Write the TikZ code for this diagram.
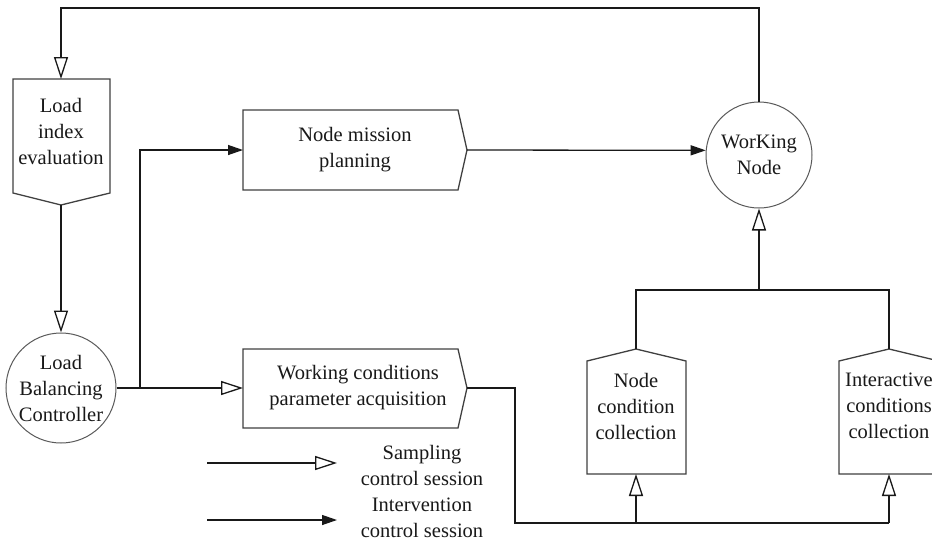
\documentclass[tikz,border=0pt]{standalone}
\usepackage{fontspec}
\setmainfont{Liberation Serif}
\usetikzlibrary{arrows.meta}
\tikzset{
  shapeline/.style={draw=black!75, line width=1.3pt, fill=white},
  lbl/.style={align=center, font=\fontsize{20.5}{26}\selectfont, text=black!90, inner sep=0pt},
  conn/.style={draw=black!90, line width=1.3pt},
  sampl/.style={conn, -{Triangle[open, length=22pt, width=14pt, line width=1.3pt]}},
  interv/.style={conn, -{Triangle[length=15pt, width=10pt]}},
  roundnode/.style={circle, draw=black!65, line width=1pt, minimum size=#1, inner sep=0pt, align=center, font=\fontsize{20.5}{26}\selectfont, text=black!90},
}
\begin{document}
\begin{tikzpicture}[x=1pt,y=-1pt]
\useasboundingbox (0,0) rectangle (932,542);
\clip (0,0) rectangle (932,542);
% coordinates of shapes
\coordinate (lieT) at (61,79);
\coordinate (lieB) at (61,205);
\coordinate (nmpL) at (243,150);
\coordinate (nmpR) at (467,150);
\coordinate (wcpL) at (243,388);
\coordinate (wcpR) at (467,388);
\coordinate (ncT) at (636,349);
\coordinate (ncB) at (636,474);
\coordinate (icT) at (889,349);
\coordinate (icB) at (889,474);
% shapes
\path[shapeline] (13,79) -- (110,79) -- (110,193) -- (lieB) -- (13,193) -- cycle;
\node[lbl] (lie) at (61,131) {Load\\index\\evaluation};
\path[shapeline] (243,110) -- (458,110) -- (nmpR) -- (458,190) -- (243,190) -- cycle;
\node[lbl] (nmp) at (355,150) {Node mission\\planning};
\path[shapeline] (243,349) -- (458,349) -- (wcpR) -- (458,428) -- (243,428) -- cycle;
\node[lbl] (wcp) at (358,388) {Working conditions\\parameter acquisition};
\path[shapeline] (587,474) -- (587,361) -- (ncT) -- (686,361) -- (686,474) -- cycle;
\node[lbl] (nc) at (636,406) {Node\\condition\\collection};
\path[shapeline] (839,474) -- (839,361) -- (icT) -- (939,361) -- (939,474) -- cycle;
\node[lbl] (ic) at (889,406) {Interactive\\conditions\\collection};
\node[roundnode=110pt] (lbc) at (61,388) {Load\\Balancing\\Controller};
\node[roundnode=106pt] (wn) at (759,155) {WorKing\\Node};
% junction coordinates
\coordinate (tr) at (759,8);
\coordinate (br) at (140,388);
\coordinate (jn) at (759,290);
\coordinate (wr) at (515,388);
\coordinate (bot) at (515,523);
% connectors
\draw[sampl] (wn.north) -- (tr) -| (lieT);
\draw[sampl] (lieB) -- (lbc.north);
\draw[sampl] (lbc.east) -- (wcpL);
\draw[interv] (br) |- (nmpL);
\draw[interv] (nmpR) -- (wn.175);
\draw[conn] (ncT) |- (jn) -| (icT);
\draw[sampl] (jn) -- (wn.south);
\draw[conn] (wcpR) -- (wr) -- (bot) -| (icB |- bot);
\draw[sampl] (ncB |- bot) -- (ncB);
\draw[sampl] (icB |- bot) -- (icB);
% legend
\coordinate (lg1a) at (207,463);
\coordinate (lg1b) at (337,463);
\coordinate (lg2a) at (207,520);
\coordinate (lg2b) at (337,520);
\draw[sampl] (lg1a) -- (lg1b);
\draw[interv] (lg2a) -- (lg2b);
\node[lbl] (lgt1) at (422,465) {Sampling\\control session};
\node[lbl] (lgt2) at (422,518) {Intervention\\control session};
\end{tikzpicture}
\end{document}
